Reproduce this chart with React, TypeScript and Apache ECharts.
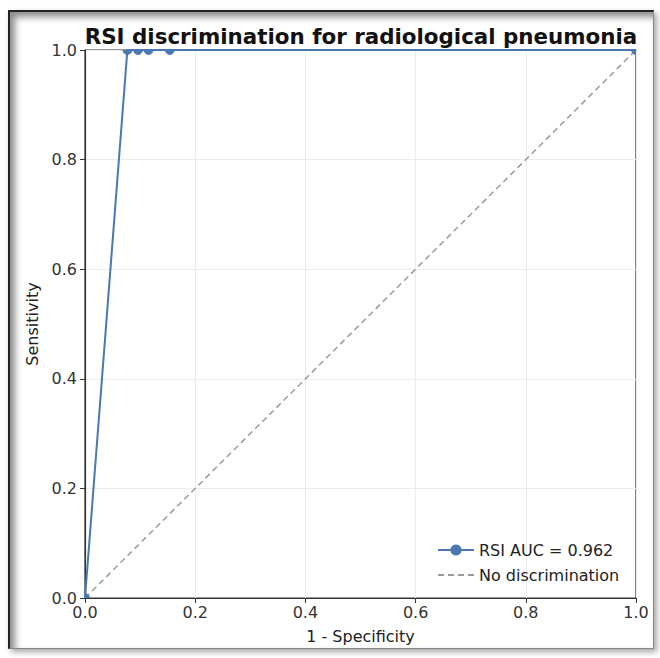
import React, { useEffect, useRef } from "react";
import * as echarts from "echarts";

const fpr = [0, 0.0769, 0.0962, 0.1154, 0.1538, 1.0];
const tpr = [0, 1, 1, 1, 1, 1];
const refX = [0, 1];
const refY = [0, 1];
const titleText = "RSI discrimination for radiological pneumonia";
const rocName = "RSI AUC = 0.962";
const refName = "No discrimination";
const xName = "1 - Specificity";
const yName = "Sensitivity";

const BLUE = "#4a78b0";
const FONT = "DejaVu Sans";

export default function App() {
  const ref = useRef<HTMLDivElement>(null);
  useEffect(() => {
    if (!ref.current) return;
    const chart = echarts.init(ref.current, undefined, { renderer: "svg" });
    const rocData = fpr.map((x, i) => [x, tpr[i]]);
    const refData = refX.map((x, i) => [x, refY[i]]);
    const axisCommon = {
      type: "value" as const,
      min: 0,
      max: 1,
      interval: 0.2,
      axisLine: { show: true, onZero: false, lineStyle: { color: "#333", width: 1.2 } },
      axisTick: { show: true, inside: false, length: 5, lineStyle: { color: "#333" } },
      splitLine: { show: true, lineStyle: { color: "#ebebeb", width: 1 } },
      axisLabel: {
        color: "#333",
        fontFamily: FONT,
        fontSize: 16,
        formatter: (v: number) => v.toFixed(1),
      },
      nameLocation: "middle" as const,
      nameTextStyle: { color: "#222", fontFamily: FONT, fontSize: 16 },
    };
    chart.setOption({
      animation: false,
      backgroundColor: "transparent",
      title: {
        text: titleText,
        left: 356,
        textAlign: "center",
        top: 21,
        textStyle: { fontFamily: FONT, fontWeight: "bold", fontSize: 21.4, color: "#111" },
      },
      grid: {
        left: 85,
        right: 24,
        top: 50,
        bottom: 60,
        show: true,
        borderColor: "#333",
        borderWidth: 1.2,
        backgroundColor: "transparent",
      },
      xAxis: {
        ...axisCommon,
        name: xName,
        nameGap: 30,
        axisLabel: { ...axisCommon.axisLabel, margin: 6 },
      },
      yAxis: {
        ...axisCommon,
        name: yName,
        nameGap: 44,
        axisLabel: { ...axisCommon.axisLabel, margin: 8 },
      },
      legend: {
        orient: "vertical",
        left: 432,
        top: 537,
        itemWidth: 36,
        itemHeight: 14,
        itemGap: 9,
        textStyle: { fontFamily: FONT, fontSize: 16, color: "#222" },
        data: [
          { name: rocName },
          { name: refName, itemStyle: { color: "rgba(0,0,0,0)", opacity: 0, borderWidth: 0 } },
        ],
      },
      series: [
        {
          name: rocName,
          type: "line",
          data: rocData,
          symbol: "circle",
          symbolSize: 8,
          showSymbol: false,
          clip: true,
          color: BLUE,
          itemStyle: { color: BLUE },
          lineStyle: { color: BLUE, width: 2 },
          z: 3,
        },
        {
          name: "rocMarkers",
          type: "custom",
          clip: true,
          data: rocData,
          z: 4,
          renderItem: (_p: any, api: any) => {
            const pt = api.coord([api.value(0), api.value(1)]);
            return {
              type: "circle",
              shape: { cx: pt[0], cy: pt[1], r: 4.4 },
              style: { fill: BLUE, stroke: BLUE },
            };
          },
        },
        {
          name: refName,
          type: "line",
          data: refData,
          symbol: "none",
          showSymbol: false,
          color: "#9a9a9a",
          lineStyle: { color: "#9a9a9a", width: 1.5, type: [6, 4] },
          z: 2,
        },
      ],
    });
    return () => chart.dispose();
  }, []);

  return (
    <div style={{ position: "fixed", left: 0, top: 0, width: 660, height: 658, background: "#fff" }}>
      <div
        style={{
          position: "absolute",
          left: 8,
          top: 10,
          width: 643,
          height: 636,
          borderTop: "2px solid #222",
          borderLeft: "2px solid #222",
          borderRight: "1px solid #888",
          borderBottom: "1px solid #888",
          boxShadow: "inset 5px 5px 7px rgba(0,0,0,0.45), 3px 3px 6px rgba(0,0,0,0.35)",
        }}
      />
      <div ref={ref} style={{ position: "absolute", left: 0, top: 0, width: 660, height: 658 }} />
    </div>
  );
}
